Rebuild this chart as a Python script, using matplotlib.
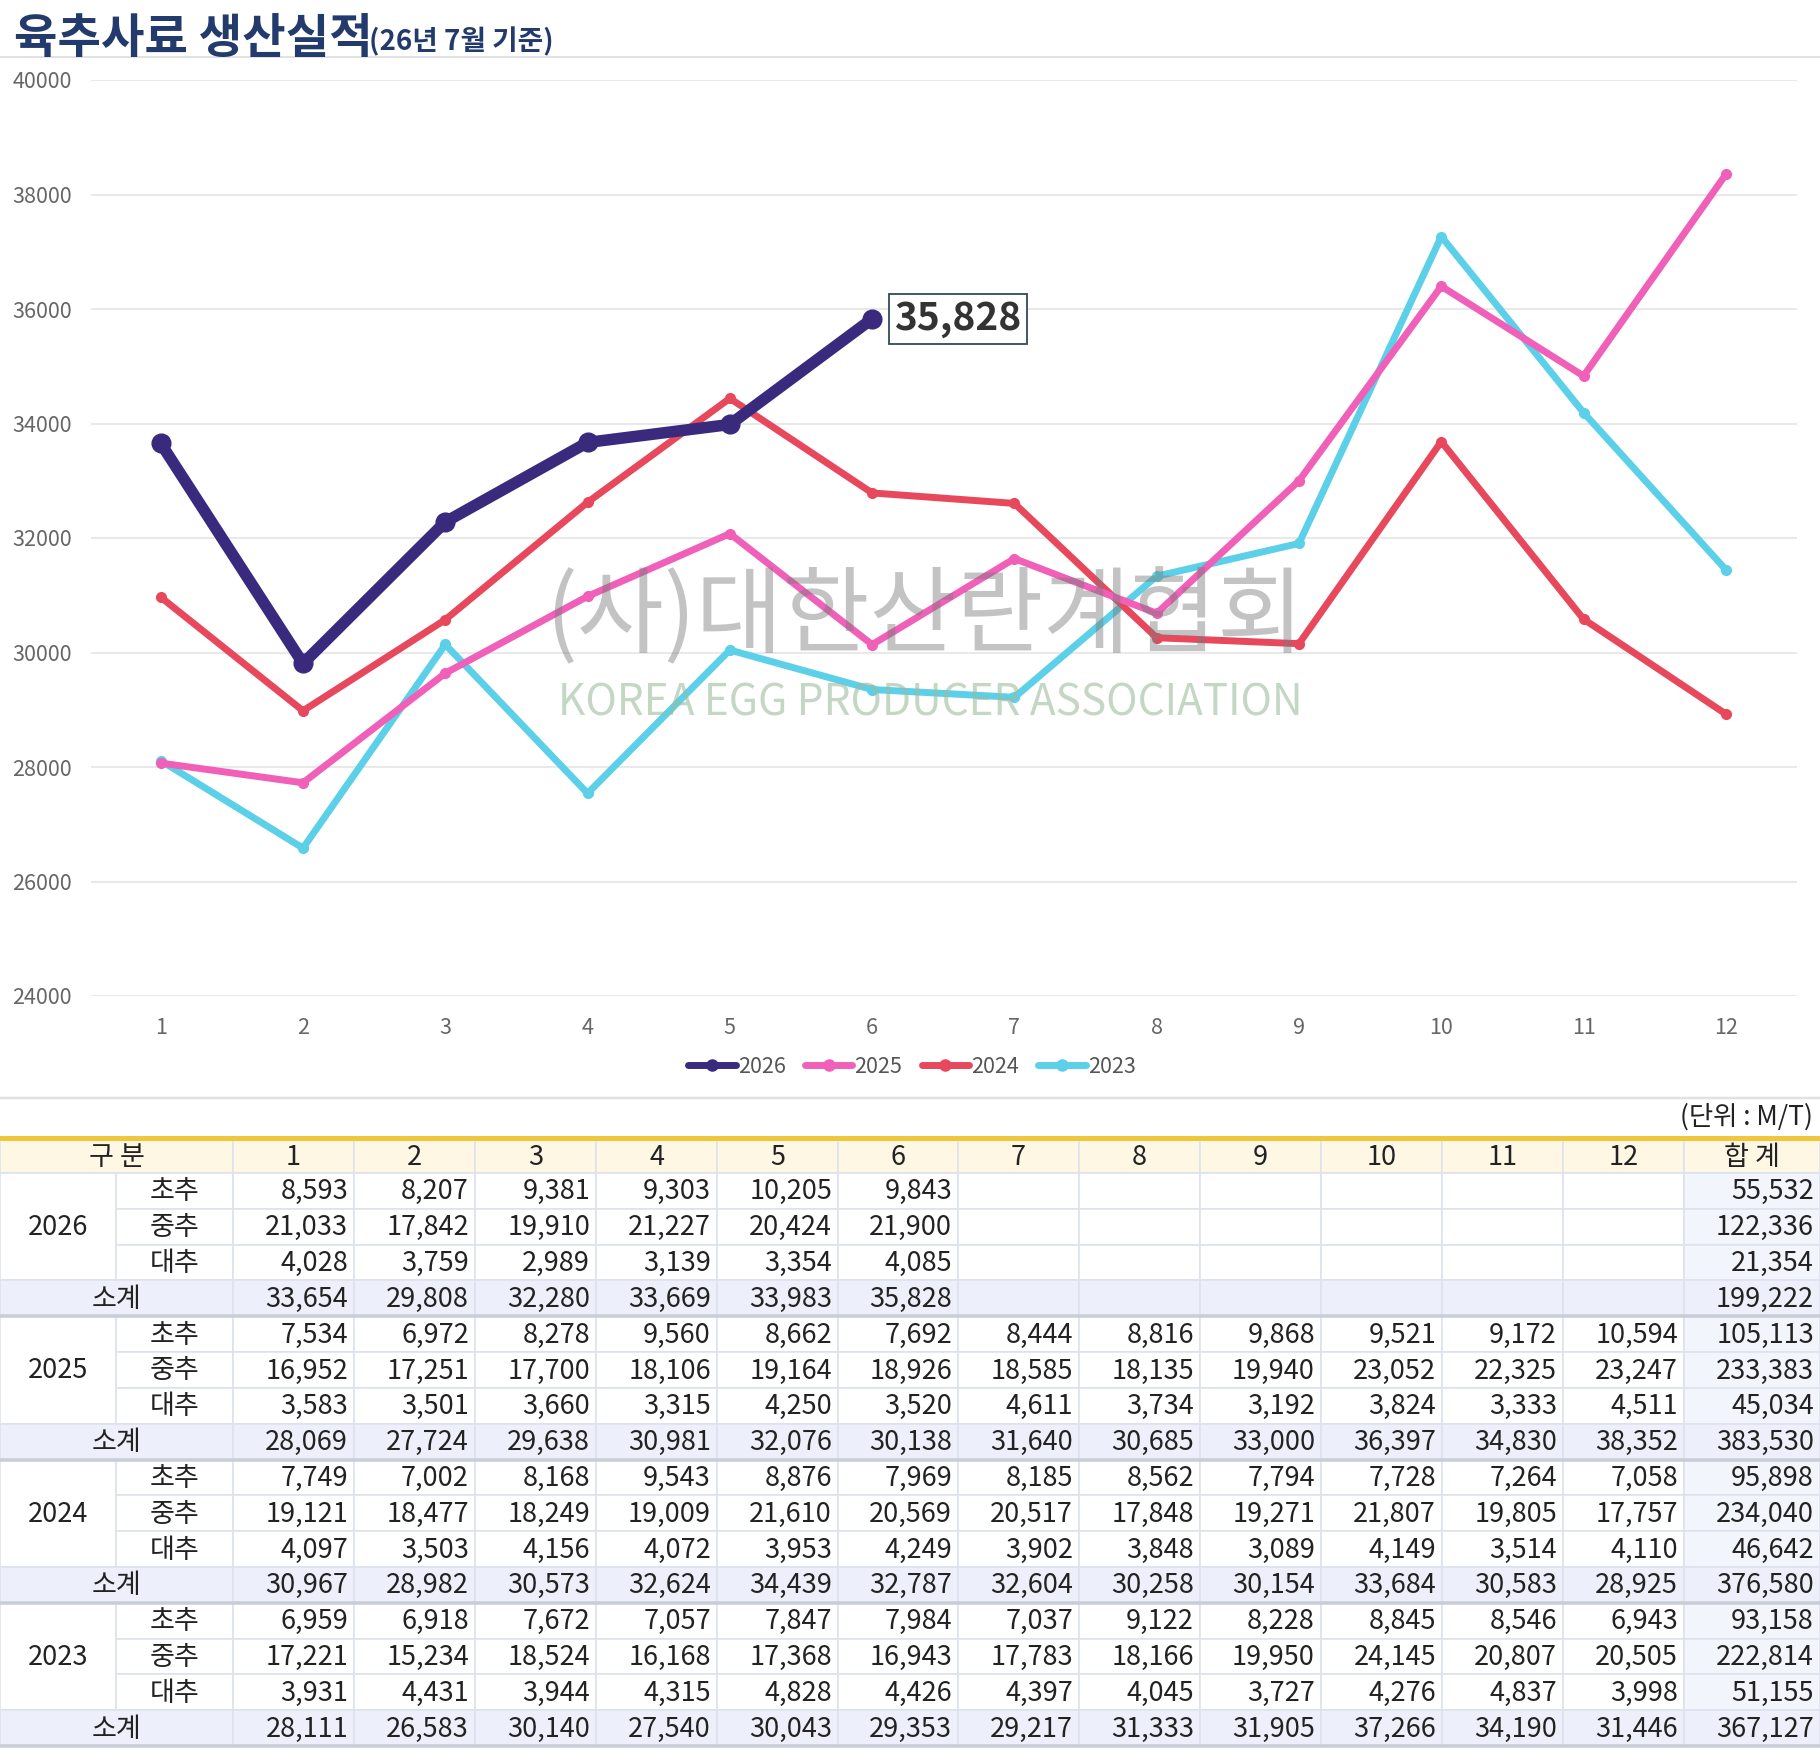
import matplotlib
matplotlib.use("Agg")
import matplotlib.pyplot as plt
from matplotlib.patches import Rectangle
from matplotlib.lines import Line2D

plt.rcParams['font.family'] = ['Noto Sans CJK KR', 'DejaVu Sans']

# ---------------- data ----------------
months = list(range(1, 13))
years = ["2026", "2025", "2024", "2023"]
kinds = ["초추", "중추", "대추"]

chick_2026 = [8593, 8207, 9381, 9303, 10205, 9843]
mid_2026 = [21033, 17842, 19910, 21227, 20424, 21900]
big_2026 = [4028, 3759, 2989, 3139, 3354, 4085]
sub_2026 = [33654, 29808, 32280, 33669, 33983, 35828]
tot_2026 = [55532, 122336, 21354, 199222]

chick_2025 = [7534, 6972, 8278, 9560, 8662, 7692, 8444, 8816, 9868, 9521, 9172, 10594]
mid_2025 = [16952, 17251, 17700, 18106, 19164, 18926, 18585, 18135, 19940, 23052, 22325, 23247]
big_2025 = [3583, 3501, 3660, 3315, 4250, 3520, 4611, 3734, 3192, 3824, 3333, 4511]
sub_2025 = [28069, 27724, 29638, 30981, 32076, 30138, 31640, 30685, 33000, 36397, 34830, 38352]
tot_2025 = [105113, 233383, 45034, 383530]

chick_2024 = [7749, 7002, 8168, 9543, 8876, 7969, 8185, 8562, 7794, 7728, 7264, 7058]
mid_2024 = [19121, 18477, 18249, 19009, 21610, 20569, 20517, 17848, 19271, 21807, 19805, 17757]
big_2024 = [4097, 3503, 4156, 4072, 3953, 4249, 3902, 3848, 3089, 4149, 3514, 4110]
sub_2024 = [30967, 28982, 30573, 32624, 34439, 32787, 32604, 30258, 30154, 33684, 30583, 28925]
tot_2024 = [95898, 234040, 46642, 376580]

chick_2023 = [6959, 6918, 7672, 7057, 7847, 7984, 7037, 9122, 8228, 8845, 8546, 6943]
mid_2023 = [17221, 15234, 18524, 16168, 17368, 16943, 17783, 18166, 19950, 24145, 20807, 20505]
big_2023 = [3931, 4431, 3944, 4315, 4828, 4426, 4397, 4045, 3727, 4276, 4837, 3998]
sub_2023 = [28111, 26583, 30140, 27540, 30043, 29353, 29217, 31333, 31905, 37266, 34190, 31446]
tot_2023 = [93158, 222814, 51155, 367127]

y_ticks = [24000, 26000, 28000, 30000, 32000, 34000, 36000, 38000, 40000]

groups = [
    ("2026", [chick_2026, mid_2026, big_2026], sub_2026, tot_2026),
    ("2025", [chick_2025, mid_2025, big_2025], sub_2025, tot_2025),
    ("2024", [chick_2024, mid_2024, big_2024], sub_2024, tot_2024),
    ("2023", [chick_2023, mid_2023, big_2023], sub_2023, tot_2023),
]

colors = {"2026": "#3a2a7e", "2025": "#f060b8", "2024": "#e8485c", "2023": "#5bd0e8"}
subs = {"2026": sub_2026, "2025": sub_2025, "2024": sub_2024, "2023": sub_2023}

W, H = 1820, 1748
fig = plt.figure(figsize=(W / 100, H / 100), dpi=100)
fig.patch.set_facecolor("white")

# background / table axes in pixel coordinates
axt = fig.add_axes([0, 0, 1, 1])
axt.set_xlim(0, W)
axt.set_ylim(H, 0)
axt.axis("off")
axt.patch.set_alpha(0)

PX = 0.72  # points per pixel

# title
t1 = axt.text(14, 53, "육추사료 생산실적", fontsize=34, fontweight="black",
              color="#223a6c", ha="left", va="baseline")
axt.annotate("(26년 7월 기준)", xy=(1, 0), xycoords=t1, xytext=(-3, 5),
             textcoords="offset points", fontsize=20, fontweight="bold",
             color="#223a6c", ha="left", va="bottom")
axt.plot([0, W], [57, 57], color="#e2e2e2", lw=2 * PX)
axt.plot([0, W], [1098, 1098], color="#e2e2e2", lw=2.5 * PX)

# ---------------- chart ----------------
ax = fig.add_axes([91 / W, 1 - 996 / H, (1797 - 91) / W, (996 - 80) / H])
ax.set_ylim(24000, 40000)
ax.set_xlim(0.51, 12.5)
ax.set_yticks(y_ticks)
ax.set_yticklabels([str(v) for v in y_ticks])
ax.set_xticks(months)
ax.set_xticklabels([str(m) for m in months])
ax.grid(axis="y", color="#e3e3e3", lw=1.5 * PX)
ax.set_axisbelow(True)
for s in ax.spines.values():
    s.set_visible(False)
ax.tick_params(axis="both", length=0, labelsize=15.5, colors="#666666")
ax.tick_params(axis="y", pad=14)
ax.tick_params(axis="x", pad=15)
ax.patch.set_alpha(0)

zorders = {"2026": 6, "2025": 5, "2024": 4, "2023": 3}
for y in ["2023", "2024", "2025", "2026"]:
    vals = subs[y]
    xs = months[:len(vals)]
    if y == "2026":
        lw, ms = 8.3, 13.5
    else:
        lw, ms = 5.0, 7
    ax.plot(xs, vals, color=colors[y], lw=lw, marker="o", ms=ms,
            solid_joinstyle="round", solid_capstyle="round",
            zorder=zorders[y], clip_on=False)

ax.annotate(f"{sub_2026[-1]:,}", xy=(len(sub_2026), sub_2026[-1]), xytext=(16, 0),
            textcoords="offset points", ha="left", va="center", fontsize=28,
            fontweight="bold", color="#333333", zorder=10,
            bbox=dict(boxstyle="square,pad=0.14", fc="white", ec="#34495e", lw=1.3))

# legend
handles = [Line2D([0], [0], color=colors[y], lw=5, marker="o", ms=8,
                  solid_capstyle="round") for y in years]
fig.legend(handles, years, loc="center", bbox_to_anchor=(912 / W, 1 - 1067 / H),
           ncol=4, frameon=False, fontsize=15.5, handlelength=2.2,
           handletextpad=0.1, columnspacing=0.9, labelcolor="#555555")

# watermark
fig.text(925 / W, 1 - 618 / H, "(사)대한산란계협회", fontsize=68, color="#7a7a7a",
         alpha=0.45, ha="center", va="center", fontweight="medium", zorder=20)
fig.text(930 / W, 1 - 703 / H, "KOREA EGG PRODUCER ASSOCIATION", fontsize=30.5,
         color="#9dbb9d", alpha=0.6, ha="center", va="center", fontweight="light",
         zorder=20)

# ---------------- table ----------------
axt.text(1813, 1117, "(단위 : M/T)", fontsize=19, color="#222222",
         ha="right", va="center")

col_edges = [0, 116, 233, 354, 475, 596, 717, 838, 958, 1079, 1200, 1321, 1442, 1563, 1684, 1820]
head_top, head_bot = 1140, 1173
row_h = (1746 - head_bot) / 16.0
FS = 19.5
TXT = "#222222"
GRID = "#dde2ec"
HEAD_BG = "#fdf7e4"
SUB_BG = "#edf0fa"
TOT_BG = "#f3f5fc"


def cell(x0, x1, y0, y1, fc, text=None, align="center"):
    axt.add_patch(Rectangle((x0, y0), x1 - x0, y1 - y0, fc=fc, ec=GRID,
                            lw=1.6 * PX, zorder=1))
    if text is not None:
        if align == "right":
            axt.text(x1 - 6, (y0 + y1) / 2 + 1, text, fontsize=FS, color=TXT,
                     ha="right", va="center", zorder=3)
        else:
            axt.text((x0 + x1) / 2, (y0 + y1) / 2 + 1, text, fontsize=FS, color=TXT,
                     ha="center", va="center", zorder=3)


# header
cell(0, col_edges[2], head_top, head_bot, HEAD_BG, "구 분")
for i, m in enumerate(months):
    cell(col_edges[2 + i], col_edges[3 + i], head_top, head_bot, HEAD_BG, str(m))
cell(col_edges[14], col_edges[15], head_top, head_bot, HEAD_BG, "합 계")
axt.add_patch(Rectangle((0, 1136), W, 4.5, fc="#f0c63c", ec="none", zorder=4))


def fmt(v):
    return "" if v is None else f"{v:,}"


for g, (yr, parts, sub, tot) in enumerate(groups):
    base = head_bot + g * 4 * row_h
    cell(0, col_edges[1], base, base + 3 * row_h, "white", yr)
    for k in range(3):
        y0 = base + k * row_h
        y1 = y0 + row_h
        cell(col_edges[1], col_edges[2], y0, y1, "white", kinds[k])
        vals = parts[k] + [None] * (12 - len(parts[k]))
        for i in range(12):
            cell(col_edges[2 + i], col_edges[3 + i], y0, y1, "white", fmt(vals[i]), "right")
        cell(col_edges[14], col_edges[15], y0, y1, TOT_BG, fmt(tot[k]), "right")
    y0 = base + 3 * row_h
    y1 = y0 + row_h
    cell(0, col_edges[2], y0, y1, SUB_BG, "소계")
    svals = sub + [None] * (12 - len(sub))
    for i in range(12):
        cell(col_edges[2 + i], col_edges[3 + i], y0, y1, SUB_BG, fmt(svals[i]), "right")
    cell(col_edges[14], col_edges[15], y0, y1, SUB_BG, fmt(tot[3]), "right")
    axt.plot([0, W], [y1, y1], color="#c9cdd6", lw=3.5 * PX, zorder=2)

fig.savefig("out.png", dpi=100, facecolor="white")
